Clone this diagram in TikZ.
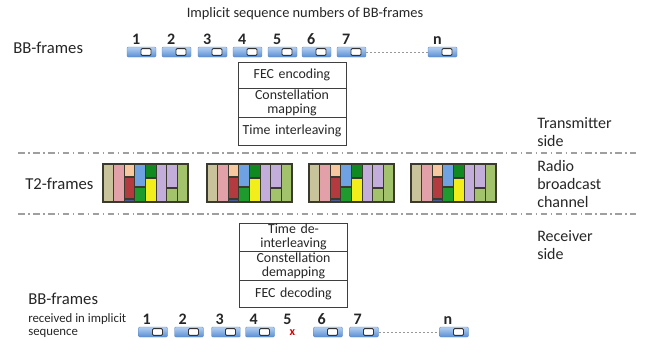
\documentclass[tikz,border=0pt]{standalone}
\usepackage{fontspec}
\setmainfont{Carlito}
\definecolor{txt}{HTML}{262626}
\definecolor{bbtop}{HTML}{B4D0F2}
\definecolor{bbbot}{HTML}{5A8ED4}
\definecolor{bbedge}{HTML}{5B84BC}
\definecolor{boxc}{HTML}{3F3F3F}
\definecolor{ctan}{HTML}{C8C39B}
\definecolor{cpink}{HTML}{E2A1A9}
\definecolor{cpeach}{HTML}{F8C9A1}
\definecolor{cred}{HTML}{B33B40}
\definecolor{cslate}{HTML}{4D5C96}
\definecolor{cblue}{HTML}{6FA2E2}
\definecolor{cgreen}{HTML}{1F9B2E}
\definecolor{cdgreen}{HTML}{108A20}
\definecolor{cyellow}{HTML}{F2EE1C}
\definecolor{clav}{HTML}{C3AEDB}
\definecolor{clgreen}{HTML}{A2C36C}
\definecolor{tbd}{HTML}{3B3A2E}
\newcommand\tseg[4]{\filldraw[fill=#4, draw=tbd, line width=0.8pt] ({#1*10.625},#2) rectangle ({(#1+1)*10.625},#3);}
\begin{document}
\begin{tikzpicture}[x=0.75pt,y=-0.75pt,
  bbf/.style={rectangle, minimum width=21.75pt, minimum height=7.5pt, inner sep=0pt,
    rounded corners=0.8pt, top color=bbtop, bottom color=bbbot, draw=bbedge, line width=0.3pt,
    path picture={\draw[fill=white, draw=black!80, line width=0.7pt]
      ([shift={(-0.5,-3.3)}]path picture bounding box.center) rectangle
      ([shift={(9.5,3.3)}]path picture bounding box.center);}},
  num/.style={font=\fontsize{12}{14}\selectfont\bfseries, inner sep=0pt, anchor=base west, text=txt},
  stk/.style={draw=boxc, line width=0.6pt, minimum width=81pt, text width=78pt, align=center,
    inner sep=0pt, font=\fontsize{10.4}{10.5}\selectfont, text=txt},
  side/.style={anchor=west, align=left, font=\fontsize{12}{13.5}\selectfont, inner sep=0pt, text=txt},
  lbl/.style={anchor=west, align=left, font=\fontsize{12.5}{14}\selectfont, inner sep=0pt, text=txt},
  sep/.style={draw=gray!75, line width=0.9pt, dash pattern=on 5pt off 2.5pt on 1.2pt off 2.5pt},
  dotline/.style={draw=gray!80, line width=0.6pt, dash pattern=on 1.5pt off 1.5pt},
  t2box/.style={draw=tbd, line width=1pt, minimum width=63.75pt, minimum height=28.5pt, inner sep=0pt}
]
\useasboundingbox (0,0) rectangle (646,339);

% title
\node[font=\fontsize{10.8}{12}\selectfont, text=txt, inner sep=0pt] (title) at (305,14) {Implicit sequence numbers of BB-frames};

% top BB-frames
\node[lbl] (lbltop) at (13,48) {BB-frames};
\foreach \c/\n in {141.5/1,176.5/2,212.5/3,247.5/4,282.5/5,316.5/6,351.5/7,442.5/n}{
  \node[bbf] (t\n) at (\c,52) {};
  \node[num] (tn\n) at ([shift={(5,-2.5)}]t\n.north west) {\n};
}
\draw[dotline] (t7.east) -- (tn.west);

% transmitter stack
\node[stk, minimum height=19.5pt] (fec) at (292,75) {FEC encoding};
\node[stk, minimum height=21.75pt] (cmap) at (292,102.5) {Constellation\\mapping};
\node[stk, minimum height=21pt] (til) at (292,131) {Time interleaving};

% separators
\draw[sep] (18,153) -- (636,153);
\draw[sep] (18,214) -- (636,214);

% right labels
\node[side] (tx) at (537,132.5) {Transmitter\\side};
\node[side] (ch) at (537,184.5) {Radio\\broadcast\\channel};
\node[side] (rx) at (537,245.5) {Receiver\\side};

% T2 frames
\node[lbl] (lblt2) at (25,184) {T2-frames};
\foreach \X [count=\i] in {103,207,309,411}{
  \begin{scope}[shift={(\X,0)}]
    \tseg{0}{164}{202}{ctan}
    \tseg{1}{164}{202}{cpink}
    \tseg{2}{164}{177}{cpeach}
    \tseg{2}{177}{199}{cred}
    \tseg{2}{199}{202}{cslate}
    \tseg{3}{164}{187}{cblue}
    \tseg{3}{187}{202}{cgreen}
    \tseg{4}{164}{178}{cdgreen}
    \tseg{4}{178}{202}{cyellow}
    \tseg{5}{164}{202}{clav}
    \tseg{6}{164}{188}{clav}
    \tseg{6}{188}{202}{clgreen}
    \tseg{7}{164}{202}{clgreen}
  \end{scope}
  \node[t2box, anchor=north west] (T\i) at (\X,164) {};
}

% receiver stack
\node[stk, minimum height=21pt] (tdi) at (293.5,237) {Time de-\\interleaving};
\node[stk, minimum height=21.75pt] (cdm) at (293.5,265.5) {Constellation\\demapping};
\node[stk, minimum height=20.25pt] (fecd) at (293.5,293.5) {FEC decoding};

% bottom BB-frames
\node[lbl] (lblbot) at (28,299) {BB-frames};
\node[anchor=north west, align=left, font=\fontsize{9.6}{9.9}\selectfont, inner sep=0pt, text=txt] (recv) at (28,313) {received in implicit\\sequence};
\foreach \c/\n in {153/1,189/2,226/3,260/4,328/6,364/7,454/n}{
  \node[bbf] (b\n) at (\c,332) {};
  \node[num] (bn\n) at ([shift={(4,-2.5)}]b\n.north west) {\n};
}
\node[num] (bn5) at (283,324) {5};
\node[text=red!85!black, font=\fontsize{9}{10}\selectfont\bfseries, inner sep=0pt] (lost) at (292.5,333) {x};
\draw[dotline] (b7.east) -- (bn.west);
\end{tikzpicture}
\end{document}
